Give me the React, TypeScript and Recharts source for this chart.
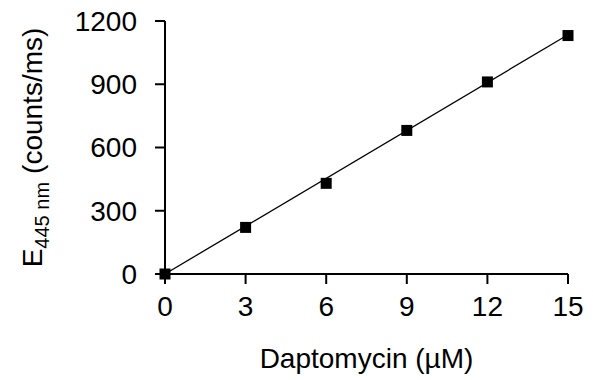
import { ComposedChart, Line, Scatter, XAxis, YAxis } from 'recharts';

// Daptomycin concentration (µM) vs emission at 445 nm
const concentrations = [0, 3, 6, 9, 12, 15];
const emission = [0, 221, 430, 681, 911, 1131];

// linear fit through the origin
const fitX = [0, 15];
const fitY = [0, 1135];

const xTicks = [0, 3, 6, 9, 12, 15];
const yTicks = [0, 300, 600, 900, 1200];

const points = concentrations.map((x, i) => ({ x, y: emission[i] }));
const fit = fitX.map((x, i) => ({ x, y: fitY[i] }));

const font = '"Liberation Sans", Arial, Helvetica, sans-serif';
const fontSize = 28;
const axisStroke = { stroke: '#000', strokeWidth: 2 };

const Square = (props: any) => {
  const { cx, cy } = props;
  if (cx == null || cy == null) return null;
  return <rect x={cx - 5.5} y={cy - 5.5} width={11} height={11} fill="#000" />;
};

const YLabel = (props: any) => {
  const vb = props.viewBox || { x: 0, y: 21, width: 100, height: 253 };
  const cy = vb.y + vb.height / 2;
  return (
    <text
      transform={`translate(42, ${cy}) rotate(-90)`}
      textAnchor="middle"
      fontFamily={font}
      fontSize={fontSize}
      fill="#000"
    >
      <tspan>E</tspan>
      <tspan fontSize={20} dy={7}>445 nm</tspan>
      <tspan dy={-7} dx={8}>(counts/ms)</tspan>
    </text>
  );
};

const XLabel = (props: any) => {
  const vb = props.viewBox || { x: 165, y: 274, width: 403, height: 100 };
  return (
    <text
      x={vb.x + vb.width / 2}
      y={vb.y + 94}
      textAnchor="middle"
      fontFamily={font}
      fontSize={fontSize}
      fill="#000"
    >
      Daptomycin (µM)
    </text>
  );
};

export default function App() {
  if (typeof document !== 'undefined') document.body.style.margin = '0';
  return (
    <div style={{ width: 593, height: 380, background: '#fff' }}>
      <ComposedChart
        width={593}
        height={380}
        margin={{ top: 21, right: 25, bottom: 6, left: 65 }}
      >
        <XAxis
          type="number"
          dataKey="x"
          domain={[0, 15]}
          ticks={xTicks}
          height={100}
          stroke="#000"
          strokeWidth={2}
          tickSize={10}
          tickMargin={12}
          axisLine={axisStroke}
          tickLine={axisStroke}
          tick={{ fill: '#000', fontSize, fontFamily: font }}
          label={<XLabel />}
        />
        <YAxis
          type="number"
          dataKey="y"
          domain={[0, 1200]}
          ticks={yTicks}
          width={100}
          stroke="#000"
          strokeWidth={2}
          tickSize={10}
          tickMargin={18}
          axisLine={axisStroke}
          tickLine={axisStroke}
          tick={{ fill: '#000', fontSize, fontFamily: font }}
          label={<YLabel />}
        />
        <Line
          data={fit}
          dataKey="y"
          type="linear"
          stroke="#000"
          strokeWidth={1.3}
          dot={false}
          activeDot={false}
          isAnimationActive={false}
        />
        <Scatter
          data={points}
          dataKey="y"
          fill="#000"
          shape={<Square />}
          isAnimationActive={false}
        />
      </ComposedChart>
    </div>
  );
}
